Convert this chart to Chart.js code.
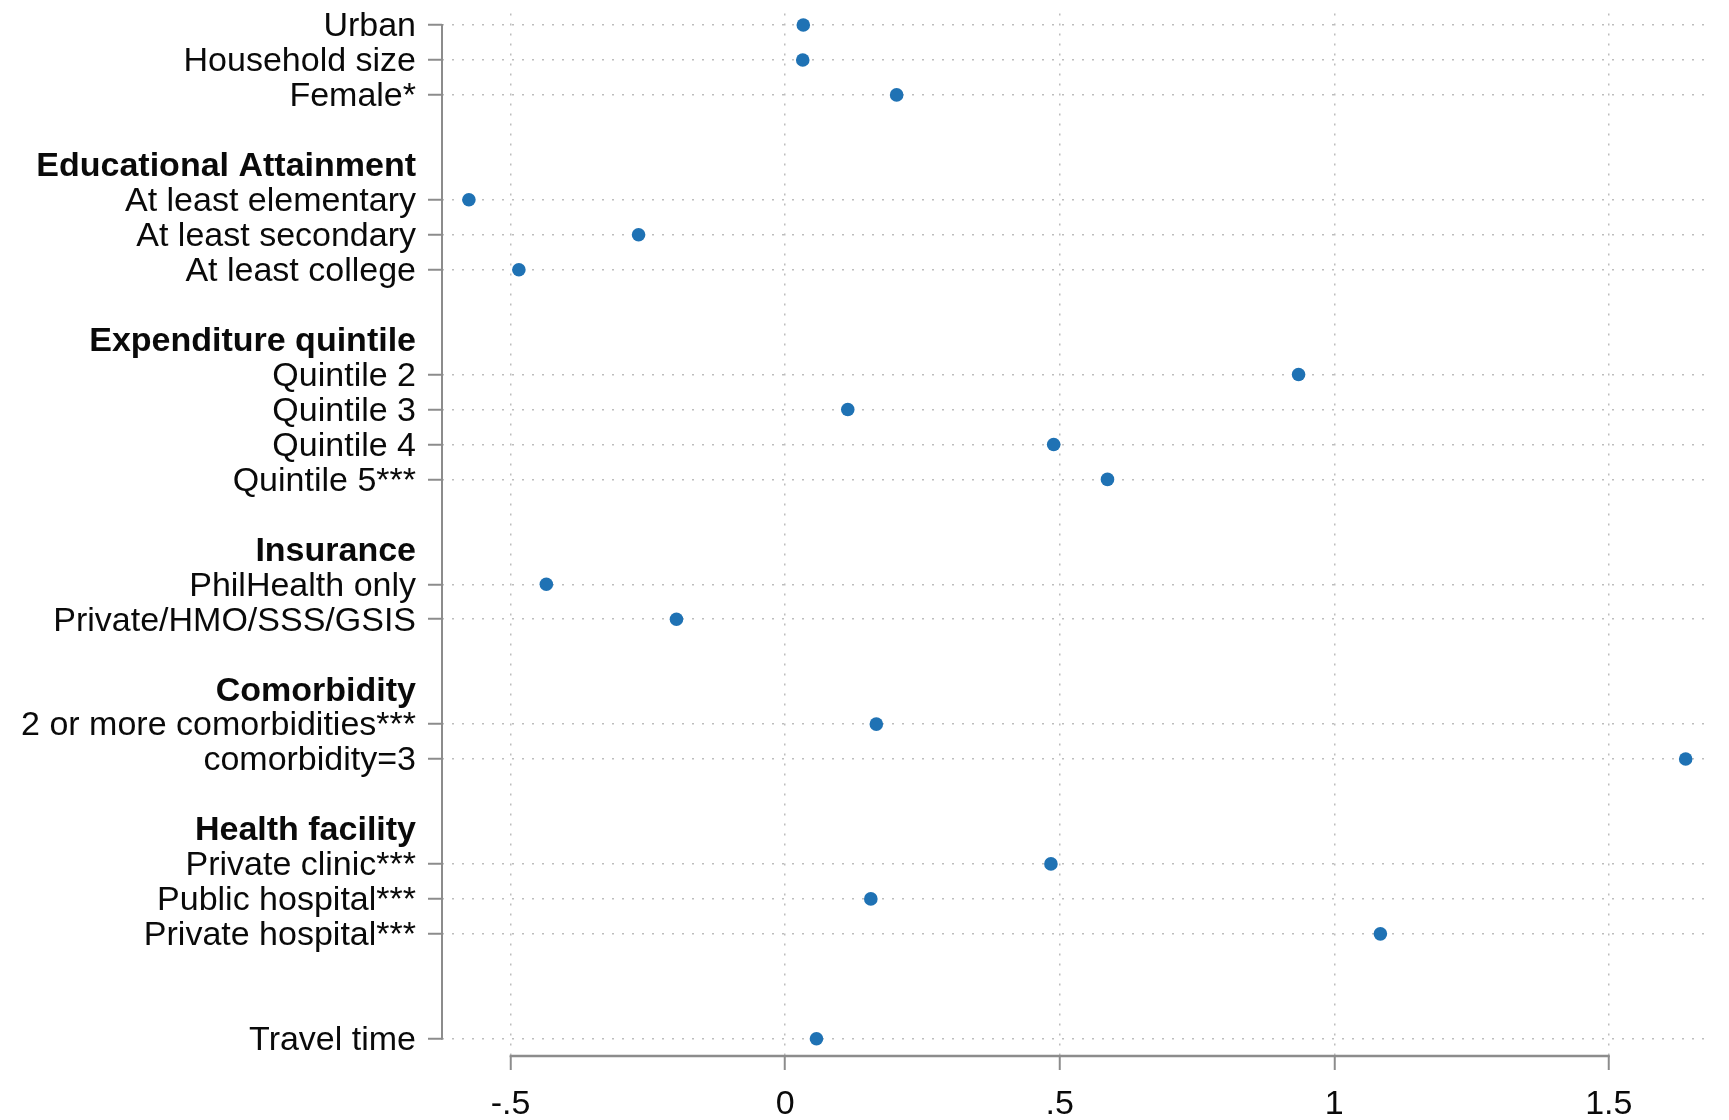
<!DOCTYPE html>
<html>
<head>
<meta charset="utf-8">
<title>Coefficient plot</title>
<script src="https://cdn.jsdelivr.net/npm/chart.js@4.4.1/dist/chart.umd.min.js"></script>
<style>
  html, body { margin: 0; padding: 0; background: #ffffff; }
  #wrap { width: 1729px; height: 1120px; }
</style>
</head>
<body>
<div id="wrap"><canvas id="chart" width="1729" height="1120"></canvas></div>
<script>
// Covariate labels, top to bottom
const categories = [
  "Urban", "Household size", "Female*",
  "At least elementary", "At least secondary", "At least college",
  "Quintile 2", "Quintile 3", "Quintile 4", "Quintile 5***",
  "PhilHealth only", "Private/HMO/SSS/GSIS",
  "2 or more comorbidities***", "comorbidity=3",
  "Private clinic***", "Public hospital***", "Private hospital***",
  "Travel time"
];
// Row slot of each covariate on the vertical axis
const rowSlots = [0, 1, 2, 5, 6, 7, 10, 11, 12, 13, 16, 17, 20, 21, 24, 25, 26, 29];
// Point estimates
const coefficients = [
  0.033, 0.032, 0.203,
  -0.576, -0.267, -0.485,
  0.935, 0.114, 0.489, 0.587,
  -0.435, -0.198,
  0.166, 1.640,
  0.484, 0.156, 1.084,
  0.057
];
// Group headings and their row slots
const groupHeaders = ["Educational Attainment", "Expenditure quintile", "Insurance", "Comorbidity", "Health facility"];
const headerSlots = [4, 9, 15, 19, 23];
// Horizontal axis ticks
const xTickValues = [-0.5, 0, 0.5, 1, 1.5];
const xTickLabels = ["-.5", "0", ".5", "1", "1.5"];

const FONT = "'Liberation Sans', Arial, sans-serif";
const AXIS_GREY = "#8c8c8c";
const GRID_GREY = "#bdbdbd";
const DOT_BLUE = "#1f72b4";

const labelBySlot = {};
rowSlots.forEach((s, i) => { labelBySlot[s] = categories[i]; });
headerSlots.forEach((s, i) => { labelBySlot[s] = groupHeaders[i]; });
const isHeader = (v) => headerSlots.includes(v);

const points = coefficients.map((c, i) => ({ x: c, y: rowSlots[i] }));

// Axis lines that span only the labelled range
const partialAxes = {
  id: 'partialAxes',
  beforeDatasetsDraw(chart) {
    const { ctx, chartArea, scales } = chart;
    const x = scales.x, y = scales.y;
    ctx.save();
    ctx.strokeStyle = AXIS_GREY;
    ctx.lineCap = 'butt';
    ctx.lineWidth = 2;
    ctx.beginPath();
    ctx.moveTo(chartArea.left, y.getPixelForValue(rowSlots[0]) - 1);
    ctx.lineTo(chartArea.left, y.getPixelForValue(rowSlots[rowSlots.length - 1]) + 1);
    ctx.stroke();
    ctx.lineWidth = 2.5;
    ctx.beginPath();
    ctx.moveTo(x.getPixelForValue(xTickValues[0]) - 1, chartArea.bottom);
    ctx.lineTo(x.getPixelForValue(xTickValues[xTickValues.length - 1]) + 1, chartArea.bottom);
    ctx.stroke();
    ctx.restore();
  }
};

new Chart(document.getElementById('chart'), {
  type: 'scatter',
  data: {
    datasets: [{
      data: points,
      backgroundColor: DOT_BLUE,
      borderColor: DOT_BLUE,
      pointRadius: 6.8,
      pointHoverRadius: 6.8,
      borderWidth: 0
    }]
  },
  options: {
    responsive: false,
    animation: false,
    devicePixelRatio: 1,
    layout: { padding: { top: 13.5, right: 20, bottom: 0, left: 0 } },
    plugins: { legend: { display: false }, tooltip: { enabled: false } },
    scales: {
      x: {
        type: 'linear',
        min: -0.625,
        max: 1.6825,
        afterBuildTicks(scale) { scale.ticks = xTickValues.map(v => ({ value: v })); },
        afterFit(scale) {
          scale.height = 64;
          scale.paddingLeft = 0; scale.paddingRight = 0;
          scale.paddingTop = 0; scale.paddingBottom = 0;
        },
        border: { display: false, dash: [2, 8] },
        grid: {
          color: GRID_GREY,
          lineWidth: 1.5,
          drawTicks: true,
          tickLength: 14,
          tickColor: AXIS_GREY,
          tickWidth: 2
        },
        ticks: {
          autoSkip: false,
          maxRotation: 0,
          padding: 14,
          color: '#0a0a0a',
          font: { family: FONT, size: 34 },
          callback: (value, index) => xTickLabels[index]
        }
      },
      y: {
        type: 'linear',
        reverse: true,
        min: -0.329,
        max: 29.495,
        afterBuildTicks(scale) {
          scale.ticks = rowSlots.concat(headerSlots).sort((a, b) => a - b).map(v => ({ value: v }));
        },
        afterFit(scale) {
          scale.width = 442;
          scale.paddingTop = 0; scale.paddingBottom = 0;
          scale.paddingLeft = 0; scale.paddingRight = 0;
        },
        border: { display: false, dash: [2, 8] },
        grid: {
          color: (ctx) => (ctx.tick && isHeader(ctx.tick.value)) ? 'rgba(0,0,0,0)' : GRID_GREY,
          lineWidth: 1.5,
          drawTicks: true,
          tickLength: 14,
          tickColor: (ctx) => (ctx.tick && isHeader(ctx.tick.value)) ? 'rgba(0,0,0,0)' : AXIS_GREY,
          tickWidth: 2
        },
        ticks: {
          autoSkip: false,
          padding: 12,
          labelOffset: 2,
          color: '#0a0a0a',
          font: (ctx) => ({
            family: FONT,
            size: 34,
            weight: (ctx.tick && isHeader(ctx.tick.value)) ? 'bold' : 'normal'
          }),
          callback: (value) => labelBySlot[value] || ''
        }
      }
    }
  },
  plugins: [partialAxes]
});
</script>
</body>
</html>
